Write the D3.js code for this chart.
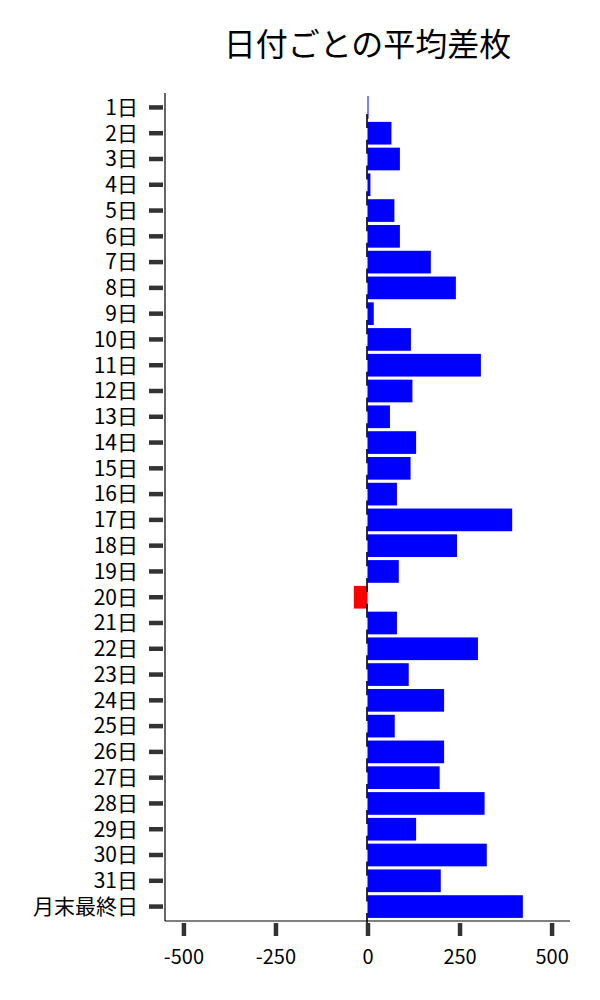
<!DOCTYPE html>
<html>
<head>
<meta charset="utf-8">
<script src="https://cdn.jsdelivr.net/npm/d3@7"></script>
<style>
  body { margin: 0; background: #fff; }
  text { font-family: "Noto Sans CJK JP", "Noto Sans", sans-serif; }
</style>
</head>
<body>
<svg id="chart" width="600" height="1000"></svg>
<script>
// Data
const days = ["1日","2日","3日","4日","5日","6日","7日","8日","9日","10日",
  "11日","12日","13日","14日","15日","16日","17日","18日","19日","20日",
  "21日","22日","23日","24日","25日","26日","27日","28日","29日","30日",
  "31日","月末最終日"];
const avgDiff = [2, 65, 88, 8, 73, 88, 172, 240, 17, 118,
  308, 122, 61, 132, 117, 80, 393, 243, 85, -37,
  80, 300, 112, 208, 74, 208, 196, 318, 132, 324,
  199, 422];
const xTicks = [-500, -250, 0, 250, 500];
const title = "日付ごとの平均差枚";

const svg = d3.select("#chart");
const plotLeft = 165, plotRight = 570, plotTop = 93, plotBottom = 921;

const x = d3.scaleLinear().domain([-550, 550]).range([plotLeft, plotRight]);
const y = d3.scaleBand().domain(days).range([plotTop, plotBottom]).padding(0.12);

// Title
svg.append("text")
    .attr("x", (plotLeft + plotRight) / 2)
    .attr("y", 42)
    .attr("text-anchor", "middle")
    .attr("dominant-baseline", "central")
    .attr("font-size", "32px")
    .attr("fill", "#000")
    .text(title);

// Bars
svg.selectAll(".bar")
    .data(days)
    .enter().append("rect")
    .attr("class", "bar")
    .attr("x", (d, i) => x(Math.min(0, avgDiff[i])))
    .attr("y", d => y(d))
    .attr("width", (d, i) => Math.max(1, Math.abs(x(avgDiff[i]) - x(0))))
    .attr("height", y.bandwidth())
    .attr("fill", (d, i) => avgDiff[i] < 0 ? "#ff0000" : "#0000ff");

// small black marks at zero for each row
svg.selectAll(".zero-mark")
    .data(days)
    .enter().append("line")
    .attr("class", "zero-mark")
    .attr("x1", x(0) - 0.5)
    .attr("x2", x(0) - 0.5)
    .attr("y1", d => y(d) + y.bandwidth() / 2 + y.step() * 0.25)
    .attr("y2", d => y(d) + y.bandwidth() / 2 + y.step() * 0.8)
    .attr("stroke", "#000")
    .attr("stroke-width", 1.6);

// Y axis
const yAxis = svg.append("g")
    .attr("transform", `translate(${plotLeft},0)`)
    .call(d3.axisLeft(y).tickSize(0).tickPadding(27));
yAxis.select(".domain").attr("d", `M0,${plotTop}V${plotBottom}`)
    .attr("stroke", "#000").attr("stroke-width", 1.2);
yAxis.selectAll(".tick text")
    .attr("font-size", "21px")
    .attr("fill", "#000")
    .attr("dy", "0.35em");
yAxis.selectAll(".tick").append("line")
    .attr("x1", -16).attr("x2", -2)
    .attr("stroke", "#333").attr("stroke-width", 4.5);

// X axis (plain hyphen for negatives, as in the reference)
const xAxis = svg.append("g")
    .attr("transform", `translate(0,${plotBottom})`)
    .call(d3.axisBottom(x).tickValues(xTicks).tickFormat(d => String(d))
        .tickSize(0).tickPadding(29));
xAxis.select(".domain").attr("d", `M${plotLeft},0H${plotRight}`)
    .attr("stroke", "#000").attr("stroke-width", 1.2);
xAxis.selectAll(".tick text")
    .attr("font-size", "20px")
    .attr("fill", "#000");
xAxis.selectAll(".tick").append("line")
    .attr("y1", 2).attr("y2", 15)
    .attr("stroke", "#333").attr("stroke-width", 4.5);
</script>
</body>
</html>
